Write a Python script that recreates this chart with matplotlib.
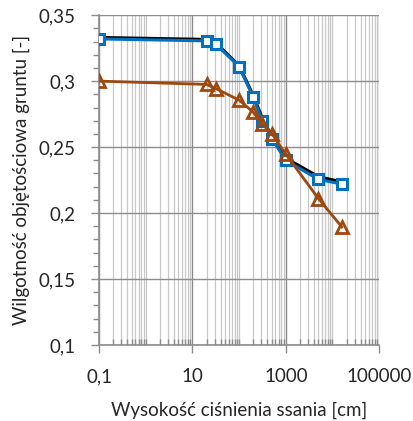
import matplotlib
matplotlib.use("Agg")
import matplotlib.pyplot as plt
from matplotlib.ticker import LogLocator, FixedLocator, MultipleLocator, FuncFormatter, NullFormatter

# suction head [cm] and volumetric water content [-]
suction = [0.1, 20, 31.6, 100, 200, 316, 500, 1000, 5000, 15849]
theta_blue = [0.332, 0.3305, 0.328, 0.311, 0.288, 0.270, 0.2565, 0.240, 0.2255, 0.222]
theta_black = [0.333, 0.3315, 0.329, 0.3115, 0.289, 0.2715, 0.258, 0.2415, 0.2275, 0.2235]
theta_brown = [0.300, 0.2975, 0.2944, 0.2856, 0.2765, 0.2674, 0.2603, 0.2446, 0.211, 0.1895]

x_ticks = [0.1, 10, 1000, 100000]
x_tick_labels = ["0,1", "10", "1000", "100000"]

plt.rcParams['font.family'] = ['Lato', 'DejaVu Sans']

fig = plt.figure(figsize=(4.13, 4.21), dpi=100)
ax = fig.add_axes([0.240, 0.1805, 0.678, 0.7835])

ax.plot(suction, theta_black, color='black', lw=2.4, marker='o', ms=2.5, zorder=3)
ax.plot(suction, theta_blue, color='#0070C0', lw=2.2, marker='s', ms=7.5,
        mfc='white', mec='#0070C0', mew=2.2, zorder=4)
ax.plot(suction, theta_brown, color='#9E480E', lw=2.0, marker='^', ms=8,
        mfc='none', mec='#9E480E', mew=2.0, zorder=5)

ax.set_xscale('log')
ax.set_xlim(0.1, 100000)
ax.set_ylim(0.1, 0.35)

ax.xaxis.set_major_locator(FixedLocator(x_ticks))
ax.xaxis.set_minor_locator(LogLocator(base=10, subs=range(1, 10), numticks=20))
ax.xaxis.set_minor_formatter(NullFormatter())
ax.set_xticklabels(x_tick_labels)
ax.yaxis.set_major_locator(MultipleLocator(0.05))
ax.yaxis.set_minor_locator(MultipleLocator(0.01))
ax.yaxis.set_major_formatter(FuncFormatter(lambda v, p: ('%g' % round(v, 2)).replace('.', ',')))

ax.grid(which='major', color='#8c8c8c', lw=1.0)
ax.grid(which='minor', axis='x', color='#c8c8c8', lw=0.9)
ax.set_axisbelow(True)

for s in ['top', 'right']:
    ax.spines[s].set_visible(False)
for s in ['left', 'bottom']:
    ax.spines[s].set_color('#8c8c8c')
    ax.spines[s].set_linewidth(1.2)

ax.tick_params(which='major', length=6, color='#8c8c8c', width=1.0,
               labelsize=13.5, labelcolor='#262626')
ax.tick_params(axis='x', which='major', pad=10.5)
ax.tick_params(axis='y', which='major', pad=11)
ax.tick_params(axis='y', which='minor', length=4, color='#8c8c8c', width=1.0)
ax.tick_params(axis='x', which='minor', direction='in', length=4, color='#8c8c8c', width=1.0)

ax.set_xlabel('Wysokość ciśnienia ssania [cm]', fontsize=13.5, color='#262626', labelpad=12)
ax.set_ylabel('Wilgotność objętościowa gruntu [-]', fontsize=13.5, color='#262626', labelpad=6)

fig.savefig('out.png', dpi=100)
